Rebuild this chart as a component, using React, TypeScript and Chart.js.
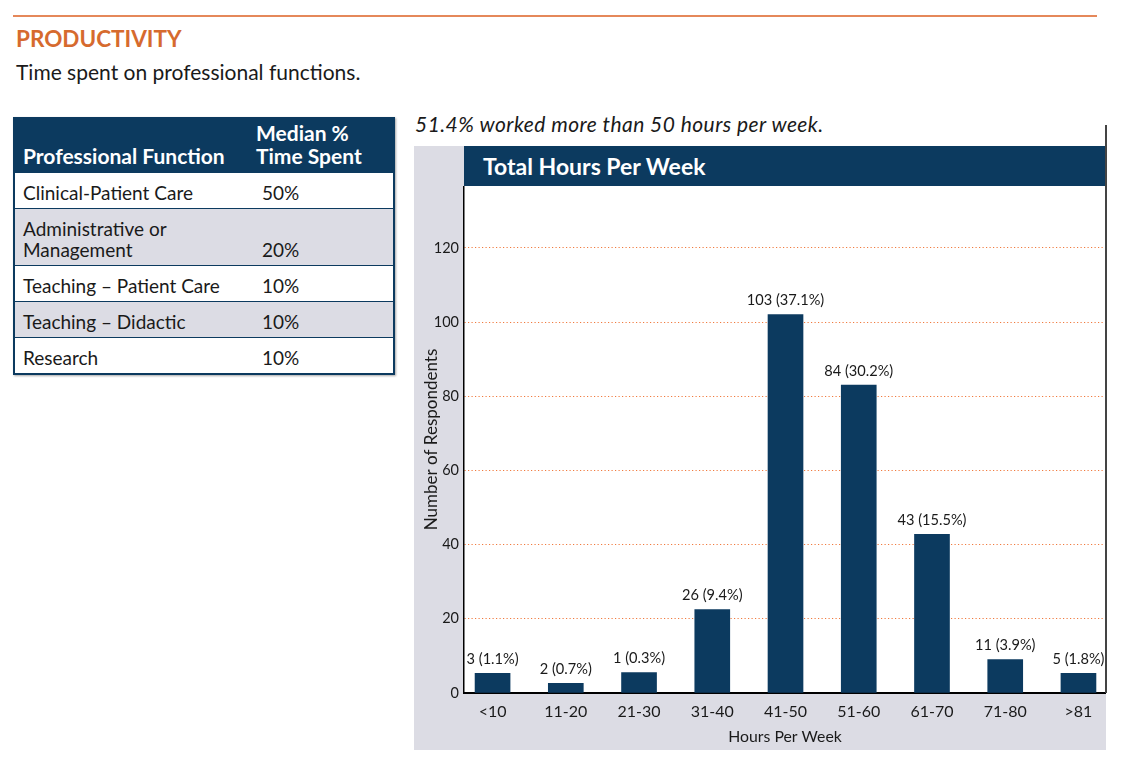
import React, { useEffect, useRef } from "react";
import { Chart, registerables } from "chart.js";

Chart.register(...registerables);

// ---- Data ----
const categories = ["<10", "11-20", "21-30", "31-40", "41-50", "51-60", "61-70", "71-80", ">81"];
// bar heights as drawn against the y axis in the reference
const barHeights = [5.3, 2.6, 5.5, 22.5, 102, 83, 42.8, 9, 5.3];
// counts and shares printed above the bars
const labelCounts = [3, 2, 1, 26, 103, 84, 43, 11, 5];
const labelPercents = ["1.1%", "0.7%", "0.3%", "9.4%", "37.1%", "30.2%", "15.5%", "3.9%", "1.8%"];
const yTickValues = [0, 20, 40, 60, 80, 100, 120];
const yMax = 136.7;

const tableFunctions = ["Clinical-Patient Care", "Administrative or\nManagement", "Teaching – Patient Care", "Teaching – Didactic", "Research"];
const tableMedians = ["50%", "20%", "10%", "10%", "10%"];

// ---- Styles ----
const NAVY = "#0c3a5f";
const GREY = "#dcdce4";
const ORANGE_LINE = "#e5885a";
const ORANGE_TITLE = "#d66a2e";
const ORANGE_GRID = "#f07a3e";
const TEXT = "#1a1a1a";
const FONT = "Lato, 'Open Sans', sans-serif";

export default function App() {
  const canvasRef = useRef<HTMLCanvasElement>(null);

  useEffect(() => {
    const canvas = canvasRef.current;
    if (!canvas) return;

    const bgPlugin = {
      id: "bgPlugin",
      beforeDraw(chart: any) {
        const { ctx, chartArea, width, height } = chart;
        ctx.save();
        ctx.fillStyle = GREY;
        ctx.fillRect(0, 0, width, height);
        ctx.fillStyle = "#ffffff";
        ctx.fillRect(chartArea.left, chartArea.top, chartArea.right - chartArea.left, chartArea.bottom - chartArea.top);
        ctx.restore();
      },
    };

    const labelPlugin = {
      id: "barLabels",
      afterDatasetsDraw(chart: any) {
        const meta = chart.getDatasetMeta(0);
        const ctx = chart.ctx;
        ctx.save();
        ctx.font = `14.6px ${FONT}`;
        ctx.fillStyle = TEXT;
        ctx.textAlign = "center";
        ctx.textBaseline = "middle";
        meta.data.forEach((el: any, i: number) => {
          ctx.fillText(`${labelCounts[i]} (${labelPercents[i]})`, el.x, el.y - 14);
        });
        ctx.restore();
      },
    };

    const chart = new Chart(canvas, {
      type: "bar",
      data: {
        datasets: [
          {
            data: barHeights.map((v, i) => ({ x: i, y: v })),
            backgroundColor: NAVY,
            barThickness: 35,
          },
        ],
      },
      options: {
        animation: false,
        responsive: false,
        maintainAspectRatio: false,
        layout: { padding: 0 },
        plugins: {
          legend: { display: false },
          tooltip: { enabled: false },
          title: { display: false },
        },
        scales: {
          x: {
            type: "linear",
            offset: false,
            min: -0.39,
            max: 8.376,
            afterBuildTicks: (s: any) => {
              s.ticks = categories.map((_, i) => ({ value: i }));
            },
            afterFit: (s: any) => {
              s.height = 57;
              s.paddingLeft = 0;
              s.paddingRight = 0;
            },
            grid: { display: false, drawTicks: false, offset: false },
            border: { display: true, color: "#000", width: 2 },
            ticks: {
              callback: (v: any) => categories[v as number],
              font: { family: FONT, size: 16 },
              color: TEXT,
              padding: 9,
              autoSkip: false,
              maxRotation: 0,
            },
            title: {
              display: true,
              text: "Hours Per Week",
              font: { family: FONT, size: 15.8 },
              color: TEXT,
              padding: { top: 0, bottom: 4 },
            },
          },
          y: {
            min: 0,
            max: yMax,
            afterBuildTicks: (s: any) => {
              s.ticks = yTickValues.map((v) => ({ value: v }));
            },
            afterFit: (s: any) => {
              s.width = 50;
              s.paddingTop = 0;
              s.paddingBottom = 0;
            },
            grid: {
              drawTicks: false,
              color: (c: any) => (c.tick && c.tick.value === 0 ? "rgba(0,0,0,0)" : ORANGE_GRID),
              lineWidth: 1,
            },
            border: { display: true, color: "#000", width: 1.5, dash: [1.2, 2.3] },
            ticks: {
              font: { family: FONT, size: 14.5 },
              color: TEXT,
              padding: 5,
            },
            title: {
              display: true,
              text: "Number of Respondents",
              font: { family: FONT, size: 17 },
              color: TEXT,
              padding: { top: 7, bottom: 0 },
            },
          },
        },
      },
      plugins: [bgPlugin, labelPlugin],
    } as any);

    return () => chart.destroy();
  }, []);

  return (
    <div
      style={{
        position: "absolute",
        left: 0,
        top: 0,
        width: 1122,
        height: 784,
        background: "#fff",
        fontFamily: FONT,
        color: TEXT,
        overflow: "hidden",
      }}
    >
      <div style={{ position: "absolute", left: 13, top: 15, width: 1084, height: 1.5, background: ORANGE_LINE }} />
      <div
        style={{
          position: "absolute",
          left: 16,
          top: 28,
          fontSize: 22.5,
          fontWeight: 700,
          color: ORANGE_TITLE,
          lineHeight: 1,
          whiteSpace: "nowrap",
        }}
      >
        PRODUCTIVITY
      </div>
      <div style={{ position: "absolute", left: 16, top: 61, fontSize: 21, lineHeight: 1, whiteSpace: "nowrap" }}>
        Time spent on professional functions.
      </div>

      {/* Table */}
      <div
        style={{
          position: "absolute",
          left: 13,
          top: 117,
          width: 382,
          border: `2px solid ${NAVY}`,
          boxSizing: "border-box",
          boxShadow: "1px 1px 2px rgba(0,0,0,0.35)",
          background: "#fff",
        }}
      >
        <div
          style={{
            height: 53,
            background: NAVY,
            color: "#fff",
            fontWeight: 700,
            fontSize: 21,
            display: "flex",
            alignItems: "flex-end",
            lineHeight: "23px",
          }}
        >
          <div style={{ width: 241, boxSizing: "border-box", paddingLeft: 8, paddingBottom: 5, whiteSpace: "nowrap" }}>
            Professional Function
          </div>
          <div style={{ paddingBottom: 5, whiteSpace: "nowrap" }}>
            Median %
            <br />
            Time Spent
          </div>
        </div>
        {tableFunctions.map((f, i) => (
          <div
            key={i}
            style={{
              display: "flex",
              alignItems: "flex-end",
              background: i % 2 === 1 ? GREY : "#fff",
              borderTop: `1.5px solid ${NAVY}`,
              fontSize: 19,
              lineHeight: "21px",
              paddingTop: 8.8,
              paddingBottom: 5.2,
            }}
          >
            <div style={{ width: 247, boxSizing: "border-box", paddingLeft: 8, whiteSpace: "pre-line" }}>{f}</div>
            <div style={{ whiteSpace: "nowrap" }}>{tableMedians[i]}</div>
          </div>
        ))}
      </div>

      {/* Chart panel */}
      <div
        style={{
          position: "absolute",
          left: 415,
          top: 113,
          fontSize: 21,
          fontStyle: "italic",
          letterSpacing: 0.45,
          lineHeight: 1,
          whiteSpace: "nowrap",
        }}
      >
        51.4% worked more than 50 hours per week.
      </div>
      <div style={{ position: "absolute", left: 414, top: 146, width: 692, height: 604, background: GREY }} />
      <div
        style={{
          position: "absolute",
          left: 464,
          top: 146,
          width: 642,
          height: 40,
          background: NAVY,
          color: "#fff",
          fontWeight: 700,
          fontSize: 23,
          lineHeight: "40px",
          paddingLeft: 19,
          boxSizing: "border-box",
          whiteSpace: "nowrap",
        }}
      >
        Total Hours Per Week
      </div>
      <canvas
        ref={canvasRef}
        width={692}
        height={564}
        style={{ position: "absolute", left: 414, top: 186, width: 692, height: 564 }}
      />
      <div style={{ position: "absolute", left: 1105, top: 125, width: 1.5, height: 568, background: "#444" }} />
    </div>
  );
}
